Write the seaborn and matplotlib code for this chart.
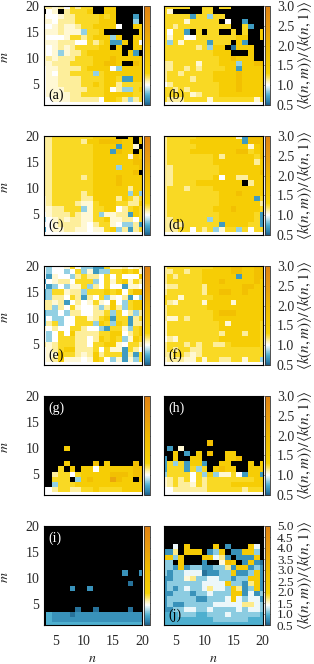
import matplotlib
matplotlib.use("Agg")
import matplotlib.pyplot as plt
import numpy as np
import pandas as pd
import seaborn as sns
from matplotlib.colors import LinearSegmentedColormap

sns.set_style("white")
plt.rcParams["font.family"] = ["Liberation Serif", "DejaVu Sans"]
plt.rcParams["mathtext.fontset"] = "stix"

n_values = list(range(3, 21))
m_values = list(range(20, 0, -1))
n_ticks = [5, 10, 15, 20]
m_ticks = [5, 10, 15, 20]
ticks_narrow = [0.5, 1.0, 1.5, 2.0, 2.5, 3.0]
ticks_wide = [0.5, 1.0, 1.5, 2.0, 2.5, 3.0, 3.5, 4.0, 4.5, 5.0]

# values, one character per cell, row m=20 first
# . = no value (black), the rest go through levels_narrow / levels_wide
levels_narrow = {"0": 0.55, "1": 0.68, "a": 0.72, "2": 0.85, "3": 1.0, "4": 1.06, "5": 1.13,
                 "6": 1.27, "7": 1.47, "8": 1.8, "9": 2.3}
levels_wide = {"0": 0.6, "1": 0.78, "a": 0.95, "2": 1.1, "3": 1.35, "4": 1.5, "5": 1.67,
               "6": 1.94, "7": 2.4, "8": 3.0, "9": 3.9}

panel_a = ["554536566..77.....", ".34.56667..77.....", "4334556666767...1.", "4435556666777...2.",
           "33454456677773..77", "44454442667......7", "43334665677727..77", "444555336567117.73",
           "434545666677.7..77", "43424556777777.71.", "454555666777877777", "44555666677887..87",
           "344555567777327777", "343556666267777777", "344555566667761177", "344555566767756666",
           "344455556667352267", "344445566667777766", "334445555537765256", "333333333333333333"]
panel_b = ["66666..66.66......", "64.....66.........", "66666166266.......", "6666466666.3..1...",
           "665666666666..61..", "63661.6.66..6.6..7", "646633666666677..7", "626466661666.71...",
           "66666656277.0777..", "666666666777...7..", "6666666666778777..", "556666466677727788",
           "556656566667717777", "566566666777787777", "566665666777787777", "356666666677787777",
           "665656666677787777", "666664566677777777", "655566664666666646", "333333333333333333"]
panel_c = ["5566666667777..7.7", "5566666577888877.7", "55666666677771774.", "5566666667771877.7",
           "556666666777777487", "556666666777777788", "556666666777727778", "55666666677777778.",
           "556666656777787777", "556666666777787777", "556666666777777577", "556666656777777272",
           "456666655777757656", "456666544677766557", "445566624667735676", "345556544624455176",
           "234545544667445536", "334555543566432251", "134455443446725156", "333333333333333333"]
panel_d = ["566666777777741888", "566667777777771888", "566666777777777478", "566667777777788678",
           "566666666757777768", "566666666777777757", "556666666677777777", "556666666677777778",
           "556666666737755777", "55666677777777.577", "566656666777777777", "566666666677787777",
           "566666666677777716", "566666666677777775", "566666666777877776", "566666666677777761",
           "556666662677777761", "555566666617777661", "555663656246626366", "333333333333333333"]
panel_e = ["323346322116445345", "323323624122667674", "314332565536363337", "134553666236467465",
           "312324462536331443", "126645526667673688", "125536515362435132", "554513534643732677",
           "552536433525752677", "122325533556263525", "132233664567166156", "156233666276276155",
           "435336653321664267", "323637555566773567", "323666553576762476", "545666553667743665",
           "345677555636441653", "344766545756661516", "345744434763241426", "333333333333333333"]
panel_f = ["566666666777887788", "556656677777887788", "565666677777717788", "566666677787777787",
           "455666657777778877", "566666657788778777", "666466666777777777", "654666647777477777",
           "566666667777777777", "566666666788877777", "544656666777777777", "466666666674777776",
           "466666666677777776", "466666666657775776", "354666666677777776", "566656566556777776",
           "565665566666666666", "556654566666666666", "455544646655664662", "333333333333333333"]
panel_g = ["..................", "..................", "..................", "..................",
           "..................", "..................", "..................", "..................",
           "..................", "..................", "....7.............", "..................",
           "..................", "....7....8.7....8.", "...6.7.77377777788", "..56636777778887 88".replace(" ", ""),
           "..666.2787779877.8", "..2666777777777777", "335665566766667777", "333333333333333333"]
panel_h = ["..................", "..................", "..................", "..................",
           "..................", "..................", "..................", "..................",
           "..................", "........8.........", ".1.4..............", "..7.1.7.8..77.....",
           "1.7..77....778....", "16261771..77...7.7", "16661626.7877..777", "266663627244631771",
           "456563656666666677", "456554656666777777", "335555556666665666", "333333333333333333"]
panel_i = ["..................", "..................", "..................", "..................",
           "..................", "..................", "..................", "..................",
           "..................", "..............1..1", "..................", "...............0..",
           ".....1..1.........", "..................", "..................", "..................",
           "......0..0.....0..", ".a1110111111111111", ".a1111111111111111", ".aaaaaaaaaaaaaaaaa"]
panel_j = ["..................", "..................", "..................", "..................",
           "..3.7....7.1...73.", "115.777.127.11772.", "7727...77351.1117.", "22.7...1..487.1710",
           "221712211225177121", "212233301122711271", "112245223322122771", "122222233337221571",
           "121232235332751271", "112221223222771312", "122222112223732331", "121122222333335532",
           "112233223222232332", "aaa222aa222322222a", "aaaaaaaaa222222aaa", "aaaaaaaaaaaaaaaaaa"]

panels = [panel_a, panel_b, panel_c, panel_d, panel_e, panel_f, panel_g, panel_h, panel_i, panel_j]
letters = ["(a)", "(b)", "(c)", "(d)", "(e)", "(f)", "(g)", "(h)", "(i)", "(j)"]
row_tops = [6, 136, 266, 396, 526]

cmap = LinearSegmentedColormap.from_list("blue_white_orange", [
    (0.0, "#1f5f85"), (0.04, "#2f85b0"), (0.1, "#4fb0d0"), (0.16, "#bde3ee"), (0.2, "#ffffff"),
    (0.23, "#fff6c8"), (0.32, "#f8d406"), (0.6, "#efb800"), (0.8, "#e89a10"), (1.0, "#e08212")])


def decode(rows, levels):
    data = [[np.nan if c == "." else levels[c] for c in row] for row in rows]
    return pd.DataFrame(data, index=m_values, columns=n_values)


W, H = 314, 664
fig = plt.figure(figsize=(W / 100, H / 100), dpi=100)
lbl = r"$\langle k(n,m)\rangle/\langle k(n,1)\rangle$"

for k, rows in enumerate(panels):
    col = k % 2
    top = row_tops[k // 2]
    left = 43.5 if col == 0 else 164
    wide = k >= 8
    ax = fig.add_axes([left / W, 1 - (top + 99) / H, 98.5 / W, 99 / H])
    cax = fig.add_axes([(left + 100.5) / W, 1 - (top + 99) / H, 5.5 / W, 99 / H])
    df = decode(rows, levels_wide if wide else levels_narrow)
    ticks = ticks_wide if wide else ticks_narrow
    sns.heatmap(df, ax=ax, cbar_ax=cax, cmap=cmap, vmin=0.5, vmax=5.0 if wide else 3.0,
                xticklabels=False, yticklabels=False, cbar_kws={"ticks": ticks, "format": "%.1f"})
    ax.set_facecolor("black")
    ax.set_xlim(0.5, 17.5)
    ax.set_ylim(19.5, 0.5)
    for s in ax.spines.values():
        s.set_visible(True)
        s.set_linewidth(0.8)
        s.set_color("black")
    ax.tick_params(length=0, labelsize=10, pad=3)
    ax.set_xlabel("")
    ax.set_ylabel("")
    if col == 0:
        ax.set_yticks([20 - m + 0.5 for m in m_ticks])
        ax.set_yticklabels([str(m) for m in m_ticks], rotation=0)
        fig.text(5 / W, 1 - (top + 51) / H, "$m$", rotation=90, fontsize=10, ha="center", va="center")
    if k >= 8:
        ax.set_xticks([n - 3 + 0.5 for n in n_ticks])
        ax.set_xticklabels([str(n) for n in n_ticks], rotation=0)
        ax.tick_params(axis="x", pad=7)
        fig.text((left + 49) / W, 1 - 659 / H, "$n$", fontsize=10, ha="center", va="center")
    text_color = "white" if k in (6, 7, 8) else "black"
    text_y = 0.88 if k in (6, 7, 8) else 0.10
    ax.text(0.045, text_y, letters[k], transform=ax.transAxes, fontsize=10, color=text_color, ha="left", va="center")

    cbar = ax.collections[0].colorbar
    cbar.outline.set_linewidth(0.6)
    cbar.outline.set_edgecolor("#333333")
    tick_size = 9.5 if wide else 10
    cax.tick_params(axis="y", direction="in", length=4, width=0.7, color="#444444", labelsize=tick_size,
                    pad=5, labelright=col == 1, right=True)
    if col == 1:
        fig.text(304 / W, 1 - (top + 49) / H, lbl, rotation=90, fontsize=11, ha="center", va="center")

plt.savefig("out.png", dpi=100)
